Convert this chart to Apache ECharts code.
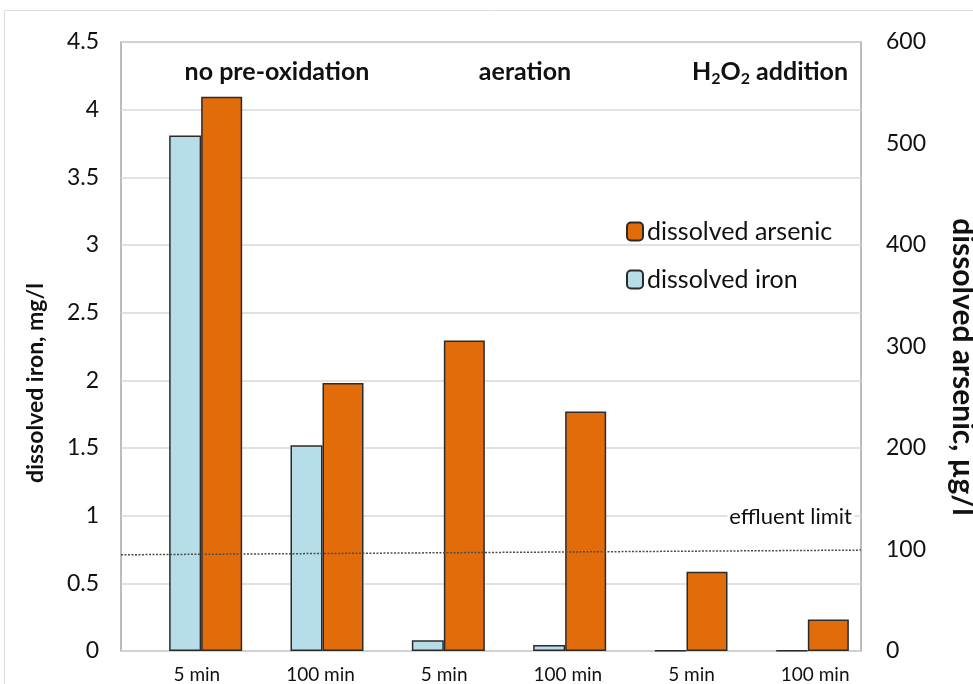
<!DOCTYPE html>
<html>
<head>
<meta charset="utf-8">
<script src="https://cdn.jsdelivr.net/npm/echarts@6/dist/echarts.min.js"></script>
<style>
  html, body { margin: 0; padding: 0; background: #ffffff; }
  #chart { width: 973px; height: 684px; }
</style>
</head>
<body>
<div id="chart"></div>
<script>
// Sampling times, three treatment groups of two
const categories = ['5 min', '100 min', '5 min', '100 min', '5 min', '100 min'];
// Dissolved iron, mg/l (left axis)
const ironValues = [3.81, 1.52, 0.08, 0.044, 0.005, 0.005];
// Dissolved arsenic, µg/l (right axis)
const arsenicValues = [546, 264, 306, 236, 78, 31];
// Effluent limit for arsenic, µg/l, at the left and right edges of the plot
const limitValues = [94.8, 99.4];
// Axis tick settings
const ironAxisTicks = { min: 0, max: 4.5, interval: 0.5 };
const arsenicAxisTicks = { min: 0, max: 600, interval: 100 };
// Treatment group headings
const groupTitles = ['no pre-oxidation', 'aeration', '{n|H}{s|2}{n|O}{s|2}{n| addition}'];

const FONT = 'Lato, "Open Sans", sans-serif';
const TEXT = '#111111';
const IRON_COLOR = '#b7dde8';
const ARSENIC_COLOR = '#e36c0a';

const chart = echarts.init(document.getElementById('chart'));

const titleStyle = { fontFamily: FONT, fontSize: 25, fontWeight: 'bold', fill: TEXT, align: 'center', verticalAlign: 'middle' };

chart.setOption({
  backgroundColor: '#ffffff',
  animation: false,
  textStyle: { fontFamily: FONT, color: TEXT },
  grid: [
    // frame, gridlines and value axes
    { left: 121, right: 112, top: 42, bottom: 33, show: true, borderColor: '#a6a6a6', borderWidth: 1.5, containLabel: false },
    // bars
    { left: 145, right: 100, top: 42, bottom: 33, containLabel: false },
    // category labels
    { left: 135, right: 96, top: 42, bottom: 33, containLabel: false }
  ],
  legend: {
    orient: 'vertical',
    left: 621,
    top: 214,
    itemWidth: 16,
    itemHeight: 18,
    itemGap: 23,
    data: ['dissolved arsenic', 'dissolved iron'],
    textStyle: { fontFamily: FONT, fontSize: 25, color: TEXT, padding: [0, 0, 0, -1] }
  },
  xAxis: [
    { gridIndex: 0, type: 'value', min: 0, max: 1, show: false },
    {
      gridIndex: 1, type: 'category', data: categories,
      axisLine: { show: false }, axisTick: { show: false }, splitLine: { show: false },
      axisLabel: { show: false }
    },
    {
      gridIndex: 2, type: 'category', data: categories,
      axisLine: { show: false }, axisTick: { show: false }, splitLine: { show: false },
      axisLabel: { fontFamily: FONT, fontSize: 19, color: TEXT, margin: 15 }
    }
  ],
  yAxis: [
    {
      gridIndex: 0, type: 'value', position: 'left',
      min: ironAxisTicks.min, max: ironAxisTicks.max, interval: ironAxisTicks.interval,
      axisLine: { show: false }, axisTick: { show: false },
      splitLine: { show: true, lineStyle: { color: '#d9d9d9', width: 1.6 } },
      axisLabel: { fontFamily: FONT, fontSize: 23, color: TEXT, margin: 22 }
    },
    {
      gridIndex: 0, type: 'value', position: 'right',
      min: arsenicAxisTicks.min, max: arsenicAxisTicks.max, interval: arsenicAxisTicks.interval,
      axisLine: { show: false }, axisTick: { show: false }, splitLine: { show: false },
      axisLabel: { fontFamily: FONT, fontSize: 23, color: TEXT, margin: 25 }
    },
    { gridIndex: 1, type: 'value', min: ironAxisTicks.min, max: ironAxisTicks.max, show: false },
    { gridIndex: 1, type: 'value', min: arsenicAxisTicks.min, max: arsenicAxisTicks.max, show: false },
    { gridIndex: 2, type: 'value', min: ironAxisTicks.min, max: ironAxisTicks.max, show: false }
  ],
  series: [
    {
      name: 'dissolved iron', type: 'bar', xAxisIndex: 1, yAxisIndex: 2,
      data: ironValues, barWidth: 32, barGap: '0%',
      itemStyle: { color: IRON_COLOR, borderColor: '#2b2b2b', borderWidth: 1.5 }
    },
    {
      name: 'dissolved arsenic', type: 'bar', xAxisIndex: 1, yAxisIndex: 3,
      data: arsenicValues, barWidth: 41, barGap: '0%',
      itemStyle: { color: ARSENIC_COLOR, borderColor: '#2b2b2b', borderWidth: 1.5 }
    },
    {
      name: 'effluent limit', type: 'line', xAxisIndex: 0, yAxisIndex: 1,
      data: [[0, limitValues[0]], [1, limitValues[1]]],
      symbol: 'none', silent: true, z: 5, clip: false,
      lineStyle: { color: '#4d4d4d', width: 1.5, type: [2, 1.5] }
    }
  ],
  graphic: [
    { type: 'rect', left: 2, top: 8, shape: { width: 1000, height: 1000 }, style: { fill: 'none', stroke: '#dcdcdc', lineWidth: 1 }, silent: true },
    { type: 'text', x: 277, y: 72, style: Object.assign({ text: groupTitles[0] }, titleStyle) },
    { type: 'text', x: 525, y: 72, style: Object.assign({ text: groupTitles[1] }, titleStyle) },
    {
      type: 'text', x: 770, y: 72,
      style: {
        text: groupTitles[2], align: 'center', verticalAlign: 'middle', fill: TEXT,
        rich: {
          n: { fontFamily: FONT, fontSize: 25, fontWeight: 'bold', fill: TEXT },
          s: { fontFamily: FONT, fontSize: 16, fontWeight: 'bold', fill: TEXT, padding: [14, 0, 0, 0] }
        }
      }
    },
    {
      type: 'text', x: 854, y: 517, z: 10,
      style: { text: 'effluent limit', fontFamily: FONT, fontSize: 22, fill: TEXT, align: 'right', verticalAlign: 'middle', backgroundColor: '#ffffff', padding: [0, 2, 0, 2] }
    },
    { type: 'text', x: 36, y: 383, rotation: Math.PI / 2, style: { text: 'dissolved iron, mg/l', fontFamily: FONT, fontSize: 23, fontWeight: 'bold', fill: TEXT, align: 'center', verticalAlign: 'middle' } },
    { type: 'text', x: 963, y: 367, rotation: -Math.PI / 2, style: { text: 'dissolved arsenic, µg/l', fontFamily: FONT, fontSize: 30, fontWeight: 'bold', fill: TEXT, align: 'center', verticalAlign: 'middle' } }
  ]
});
</script>
</body>
</html>
